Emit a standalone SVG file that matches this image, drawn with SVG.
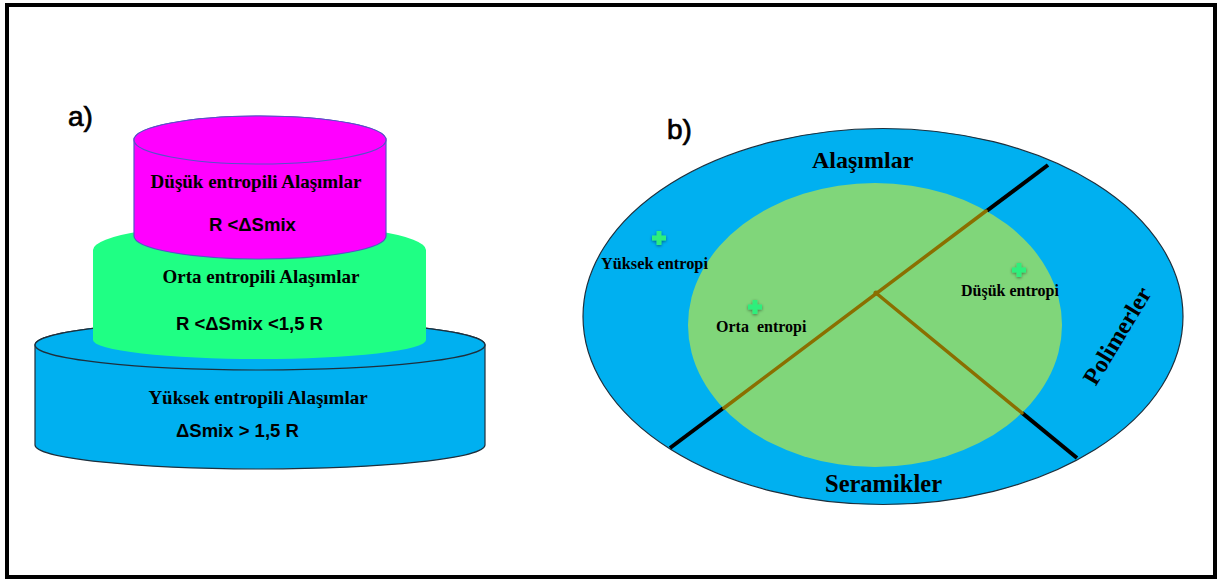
<svg xmlns="http://www.w3.org/2000/svg" width="1225" height="581" viewBox="0 0 1225 581">
  <style>
    .serif { font-family: "Liberation Serif", "Times New Roman", serif; font-weight: bold; fill: #000; }
    .sans { font-family: "Liberation Sans", Arial, sans-serif; fill: #000; }
    .tag { stroke: #000; stroke-width: 0.7; }
    .mid { text-anchor: middle; }
    .plus { fill: #2EEF7C; filter: url(#glow); }
    .olive { stroke: #8A6F00; stroke-width: 3.5; stroke-linecap: round; fill: none; }
    .black { stroke: #000; stroke-width: 4; fill: none; }
  </style>
  <defs>
    <filter id="glow" x="-50%" y="-50%" width="200%" height="200%">
      <feDropShadow dx="0" dy="1" stdDeviation="1.5" flood-color="#000" flood-opacity="0.45"/>
    </filter>
    <path id="plusShape" d="M-2.4,-7 H2.4 V-2.4 H7 V2.4 H2.4 V7 H-2.4 V2.4 H-7 V-2.4 H-2.4 Z"/>
  </defs>

  <!-- frame -->
  <rect x="0" y="0" width="1225" height="581" fill="#fff"/>
  <rect x="7" y="5" width="1208" height="572" fill="#fff" stroke="#000" stroke-width="4"/>

  <!-- panel a: stacked cylinders -->
  <text class="sans tag" x="68" y="126" font-size="28">a)</text>

  <g id="cyl-high">
    <path d="M35,345 L35,445 A225,24 0 0 0 485,445 L485,345 A225,25 0 0 0 35,345 Z" fill="#00B0F0" stroke="#1E2F3C" stroke-width="1.2"/>
    <ellipse cx="260" cy="345" rx="225" ry="25" fill="#00B0F0" stroke="#1E2F3C" stroke-width="1.2"/>
    <text class="serif mid" x="258" y="404" font-size="19">Yüksek entropili Alaşımlar</text>
    <text class="sans" x="176" y="437" font-size="18.5" font-weight="bold">ΔSmix &gt; 1,5 R</text>
  </g>

  <g id="cyl-mid">
    <path d="M93,250 L93,340 A166.5,19 0 0 0 426,340 L426,250 A166.5,27 0 0 0 93,250 Z" fill="#1FFF84"/>
    <text class="serif mid" x="261" y="283" font-size="19">Orta entropili Alaşımlar</text>
    <text class="sans" x="176" y="330" font-size="18.5" font-weight="bold">R &lt;ΔSmix &lt;1,5 R</text>
  </g>

  <g id="cyl-low">
    <path d="M134,140 L134,236 A126,23 0 0 0 386,236 L386,140 A126,24 0 0 0 134,140 Z" fill="#FF00FF" stroke="#5A50C8" stroke-width="1.2"/>
    <ellipse cx="260" cy="140" rx="126" ry="24" fill="#FF00FF" stroke="#5A50C8" stroke-width="1.2"/>
    <text class="serif mid" x="256" y="188" font-size="19">Düşük entropili Alaşımlar</text>
    <text class="sans" x="209" y="231" font-size="18.5" font-weight="bold">R &lt;ΔSmix</text>
  </g>

  <!-- panel b: material classes -->
  <text class="sans tag" x="667" y="139" font-size="28">b)</text>

  <g id="classes">
    <ellipse cx="883" cy="316.5" rx="300" ry="188" fill="#00B0F0" stroke="#1E2F3C" stroke-width="1.2"/>
  </g>

  <g id="connectors">
    <line class="black" x1="1048" y1="165" x2="670" y2="448"/>
    <line class="black" x1="876" y1="293" x2="1077" y2="458"/>
  </g>

  <g id="entropy-region">
    <ellipse cx="875" cy="325" rx="187" ry="142" fill="#80D67A"/>
    <line class="olive" x1="986" y1="211" x2="724" y2="408"/>
    <line class="olive" x1="876" y1="293" x2="1022" y2="413"/>
    <circle cx="876" cy="293" r="2.6" fill="#8A6F00"/>
  </g>

  <g id="label-alasimlar">
    <text class="serif" x="812" y="168" font-size="24">Alaşımlar</text>
  </g>
  <g id="label-seramikler">
    <text class="serif" x="825" y="492" font-size="24.5">Seramikler</text>
  </g>
  <g id="label-polimerler">
    <text class="serif mid" transform="translate(1124,340) rotate(-59)" x="0" y="0" font-size="24">Polimerler</text>
  </g>

  <g id="pt-high">
    <use href="#plusShape" class="plus" transform="translate(659,238)"/>
    <text class="serif" x="601" y="269" font-size="16.3">Yüksek entropi</text>
  </g>
  <g id="pt-mid">
    <use href="#plusShape" class="plus" transform="translate(755,307)"/>
    <text class="serif" x="716" y="332" font-size="16" xml:space="preserve">Orta  entropi</text>
  </g>
  <g id="pt-low">
    <use href="#plusShape" class="plus" transform="translate(1019,270)"/>
    <text class="serif" x="961" y="296" font-size="16">Düşük entropi</text>
  </g>
</svg>
